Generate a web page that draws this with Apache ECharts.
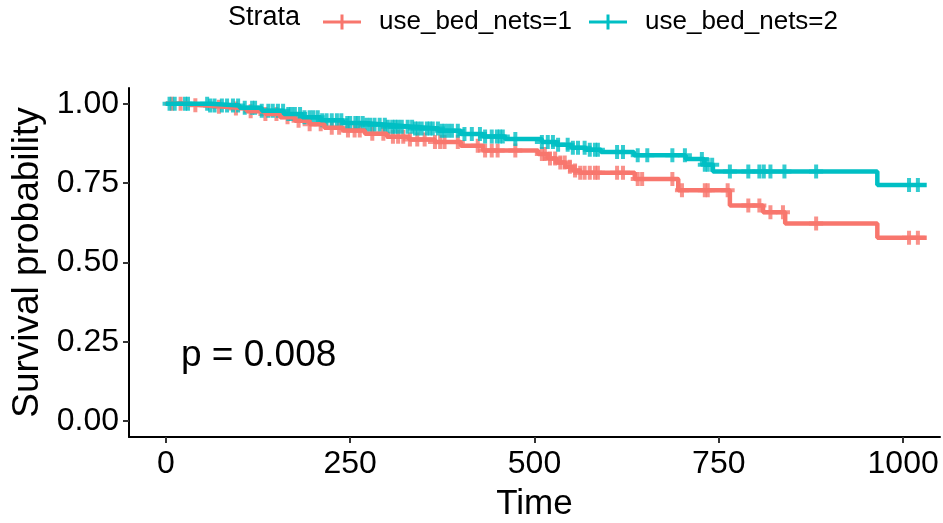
<!DOCTYPE html>
<html>
<head>
<meta charset="utf-8">
<script src="https://cdn.jsdelivr.net/npm/echarts@6/dist/echarts.min.js"></script>
<style>
  html, body { margin: 0; padding: 0; background: #fff; }
  #chart { width: 943px; height: 523px; }
</style>
</head>
<body>
<div id="chart"></div>
<script>
// Kaplan-Meier step curves (time where survival drops, survival after the drop)
const redTimes = [0, 25, 50, 80, 110, 135, 155, 175, 195, 215, 240, 270, 300, 330, 365, 400, 430, 505, 518, 530, 542, 552, 562, 636, 695, 765, 810, 840, 965, 1032];
const redSurv = [1.0, 0.996, 0.991, 0.985, 0.977, 0.968, 0.958, 0.947, 0.936, 0.925, 0.916, 0.906, 0.896, 0.888, 0.880, 0.868, 0.853, 0.842, 0.828, 0.815, 0.802, 0.790, 0.783, 0.763, 0.728, 0.680, 0.658, 0.623, 0.578, 0.578];

const tealTimes = [0, 60, 100, 130, 160, 185, 210, 240, 270, 300, 335, 370, 400, 430, 460, 510, 530, 550, 570, 590, 635, 705, 730, 742, 965, 1032];
const tealSurv = [1.0, 0.995, 0.988, 0.978, 0.968, 0.958, 0.948, 0.940, 0.934, 0.928, 0.922, 0.915, 0.905, 0.897, 0.889, 0.880, 0.871, 0.862, 0.855, 0.848, 0.838, 0.826, 0.808, 0.787, 0.744, 0.744];

// censoring times (+ marks)
const redCensor = [8, 20, 40, 72, 95, 115, 135, 150, 165, 180, 195, 210, 225, 235, 247, 256, 263, 280, 295, 308, 315, 322, 331, 341, 351, 365, 372, 378, 396, 423, 433, 442, 450, 474, 510, 514, 521, 528, 535, 541, 548, 555, 562, 568, 575, 582, 586, 612, 620, 640, 646, 687, 700, 731, 735, 762, 790, 805, 820, 837, 882, 1008, 1020];
const tealCensor = [5, 12, 26, 30, 56, 60, 66, 76, 83, 91, 98, 107, 117, 121, 130, 139, 145, 152, 159, 166, 170, 175, 182, 188, 195, 200, 206, 212, 218, 225, 232, 238, 246, 250, 257, 261, 267, 272, 277, 283, 290, 297, 301, 307, 311, 315, 320, 328, 334, 338, 342, 347, 354, 358, 362, 369, 374, 378, 383, 388, 396, 405, 415, 426, 433, 442, 449, 453, 457, 474, 510, 518, 525, 532, 545, 552, 559, 568, 575, 582, 586, 612, 620, 640, 653, 687, 704, 727, 731, 735, 741, 765, 790, 805, 811, 820, 839, 882, 1008, 1020];

const strata = ['use_bed_nets=1', 'use_bed_nets=2'];
const xTicks = [0, 250, 500, 750, 1000];
const yTicks = [0, 0.25, 0.5, 0.75, 1];
const pValueLabel = 'p = 0.008';

const RED = '#F8766D';
const TEAL = '#00BFC4';
const FONT = "'Liberation Sans', Arial, sans-serif";

const PLUS = 'path://M5,0H9V5H14V9H9V14H5V9H0V5H5Z';
const LEGEND_ICON = 'path://M0,6H17.5V0H20.5V6H38V9H20.5V15H17.5V9H0Z';

function survAt(times, surv, t) {
  let v = surv[0];
  for (let i = 0; i < times.length; i++) {
    if (times[i] <= t) v = surv[i];
  }
  return v;
}

const zip = (a, b) => a.map((v, i) => [v, b[i]]);

const chart = echarts.init(document.getElementById('chart'));

const option = {
  animation: false,
  textStyle: { fontFamily: FONT },
  grid: { left: 129, right: 3, top: 88, bottom: 86, outerBoundsMode: 'none', containLabel: false },
  graphic: [
    {
      type: 'text',
      left: 228,
      top: 4,
      style: { text: 'Strata', font: '27px ' + FONT, fill: '#000' }
    },
    {
      type: 'text',
      left: 181,
      top: 337,
      style: { text: pValueLabel, font: '37px ' + FONT, fill: '#000' }
    }
  ],
  legend: {
    left: 318,
    top: 4,
    itemWidth: 38,
    itemHeight: 15,
    itemGap: 17,
    textStyle: { fontSize: 26, color: '#000', fontFamily: FONT, padding: [0, 0, 0, 13] },
    data: [
      { name: strata[0], icon: LEGEND_ICON, itemStyle: { color: RED } },
      { name: strata[1], icon: LEGEND_ICON, itemStyle: { color: TEAL } }
    ]
  },
  xAxis: {
    type: 'value',
    min: -50,
    max: 1050,
    name: 'Time',
    nameLocation: 'middle',
    nameGap: 50,
    nameTextStyle: { fontSize: 35, color: '#000', fontFamily: FONT },
    splitLine: { show: false },
    axisLine: { onZero: false, lineStyle: { color: '#000', width: 2 } },
    axisTick: { customValues: xTicks, length: 6, lineStyle: { color: '#333', width: 2 } },
    axisLabel: {
      customValues: xTicks,
      fontSize: 32,
      color: '#000',
      margin: 11,
      fontFamily: FONT,
      formatter: (v) => String(v)
    }
  },
  yAxis: {
    type: 'value',
    min: -0.05,
    max: 1.05,
    name: 'Survival probability',
    nameLocation: 'middle',
    nameGap: 80,
    nameTextStyle: { fontSize: 37, color: '#000', fontFamily: FONT },
    splitLine: { show: false },
    axisLine: { show: true, onZero: false, lineStyle: { color: '#000', width: 2 } },
    axisTick: { show: true, customValues: yTicks, length: 6, lineStyle: { color: '#333', width: 2 } },
    axisLabel: {
      customValues: yTicks,
      fontSize: 32,
      color: '#000',
      margin: 10,
      fontFamily: FONT,
      formatter: (v) => v.toFixed(2)
    }
  },
  series: [
    {
      name: strata[0],
      type: 'line',
      step: 'end',
      showSymbol: false,
      color: RED,
      lineStyle: { width: 4.5, color: RED },
      data: zip(redTimes, redSurv)
    },
    {
      name: strata[0],
      type: 'scatter',
      symbol: PLUS,
      symbolSize: 14,
      itemStyle: { color: RED },
      data: redCensor.map((t) => [t, survAt(redTimes, redSurv, t)])
    },
    {
      name: strata[1],
      type: 'line',
      step: 'end',
      showSymbol: false,
      color: TEAL,
      lineStyle: { width: 4.5, color: TEAL },
      data: zip(tealTimes, tealSurv)
    },
    {
      name: strata[1],
      type: 'scatter',
      symbol: PLUS,
      symbolSize: 14,
      itemStyle: { color: TEAL },
      data: tealCensor.map((t) => [t, survAt(tealTimes, tealSurv, t)])
    }
  ]
};

chart.setOption(option);
</script>
</body>
</html>
